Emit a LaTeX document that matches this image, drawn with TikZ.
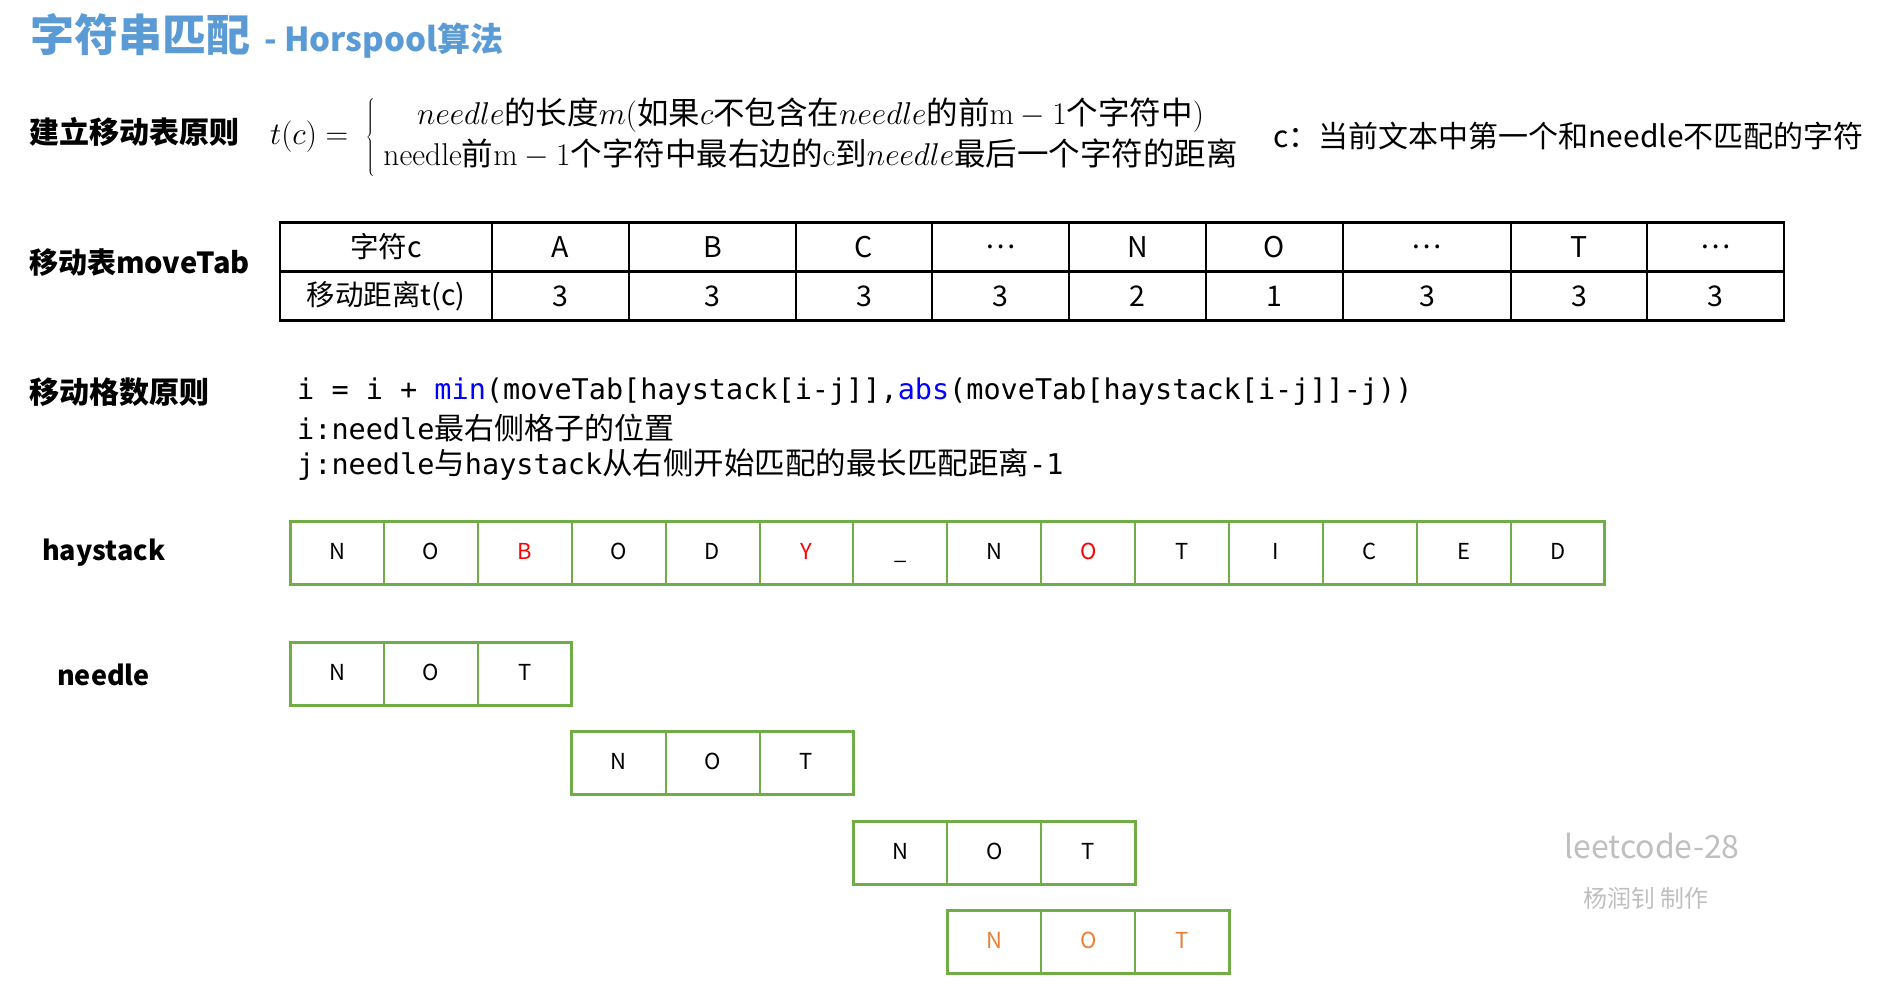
\documentclass[tikz,border=0pt]{standalone}
\usepackage{fix-cm}
\usepackage{xcolor}
\usepackage{fontspec}
\newfontfamily\cjk{Noto Sans CJK SC}
\newfontfamily\mono{DejaVu Sans Mono}
\usepackage{tikz}
\usetikzlibrary{positioning}

\definecolor{titleblue}{HTML}{5B9BD5}
\definecolor{cellgreen}{HTML}{70AD47}
\definecolor{misred}{HTML}{FF0000}
\definecolor{hitorange}{HTML}{ED7D31}
\definecolor{markgray}{HTML}{BFBFBF}
\definecolor{kwblue}{HTML}{0000FF}

\tikzset{
  rowlbl/.style={anchor=west, inner sep=0pt, font={\cjk\bfseries\fontsize{30}{36}\selectfont}},
  tcell/.style={draw, line width=2pt, outer sep=0pt, minimum height=49pt, inner sep=0pt, font={\cjk\fontsize{28.5}{32}\selectfont}},
  hcell/.style={draw=cellgreen, line width=2pt, outer sep=0pt, minimum width=93.9pt, minimum height=63pt, inner sep=0pt,
    text height=16pt, text depth=3pt, font={\cjk\fontsize{22}{26}\selectfont}},
  codeln/.style={anchor=west, inner sep=0pt, font={\mono\fontsize{28.5}{34}\selectfont}},
}

\begin{document}
\begin{tikzpicture}[x=1pt,y=-1pt]
	\useasboundingbox (0,0) rectangle (1886,996);

	% title
	\node[anchor=west, inner sep=0pt, text=titleblue, font={\cjk\bfseries}] (title) at (30,36)
		{{\fontsize{44}{50}\selectfont 字符串匹配}\hspace{14pt}{\fontsize{33}{40}\selectfont - Horspool算法}};

	% rule for the shift table
	\node[rowlbl] (rule1) at (29,132) {建立移动表原则};
	\node[anchor=west, inner sep=0pt, font=\fontsize{31.5}{41}\selectfont] (tc) at (270,137)
		{$t(c)=\;\left\{\;\begin{array}{@{}c@{}}
		needle\mbox{\cjk 的长度}m(\mbox{\cjk 如果}c\mbox{\cjk 不包含在}needle\mbox{\cjk 的前}\mathrm{m}-1\mbox{\cjk 个字符中})\\
		\mathrm{needle}\mbox{\cjk 前}\mathrm{m}-1\mbox{\cjk 个字符中最右边的}\mathrm{c}\mbox{\cjk 到}needle\mbox{\cjk 最后一个字符的距离}
		\end{array}\right.$};
	\node[anchor=west, inner sep=0pt, font={\cjk\fontsize{30}{36}\selectfont}] (cnote) at (1273,136)
		{c：当前文本中第一个和needle不匹配的字符};

	% shift table
	\node[rowlbl, font={\cjk\bfseries\fontsize{29}{36}\selectfont}] (rule2) at (29,263) {移动表moveTab};
	\foreach \xl/\xr/\ch/\sh [count=\k] in {280/492/字符c/移动距离t(c), 492/629/A/3, 629/796/B/3,
		796/932/C/3, 932/1069/…/3, 1069/1206/N/2, 1206/1343/O/1, 1343/1511/…/3, 1511/1647/T/3, 1647/1784/…/3}
	{
		\node[tcell, minimum width={(\xr-\xl)*1pt}] (c\k) at ({(\xl+\xr)/2},247) {\ch};
		\node[tcell, minimum width={(\xr-\xl)*1pt}] (t\k) at ({(\xl+\xr)/2},296) {\sh};
	}
	\draw[line width=2.5pt] (c1.north west) rectangle (t10.south east);
	\draw[line width=3.5pt] (c1.south west) -- (c10.south east);

	% rule for the shift
	\node[rowlbl] (rule3) at (29,392) {移动格数原则};
	\node[codeln] (code1) at (297,392)
		{i = i + \textcolor{kwblue}{min}(moveTab[haystack[i-j]],\textcolor{kwblue}{abs}(moveTab[haystack[i-j]]-j))};
	\node[codeln] (code2) at (297,428) {i:needle{\cjk\fontsize{30}{36}\selectfont 最右侧格子的位置}};
	\node[codeln] (code3) at (297,465)
		{j:needle{\cjk\fontsize{30.5}{36}\selectfont 与}haystack{\cjk\fontsize{30.5}{36}\selectfont 从右侧开始匹配的最长匹配距离}-1};

	% haystack
	\node[rowlbl, font={\cjk\bfseries\fontsize{27}{34}\selectfont}] (hlbl) at (42,553) {haystack};
	\foreach \ch/\col [count=\i] in {N/black, O/black, B/misred, O/black, D/black, Y/misred, \textunderscore/black,
		N/black, O/misred, T/black, I/black, C/black, E/black, D/black}
		\node[hcell, text=\col] (h\i) at ({290+93.9*(\i-0.5)},552.5) {\ch};
	\draw[cellgreen, line width=3pt] (h1.north west) rectangle (h14.south east);

	% needle, one row per shift
	\node[rowlbl, font={\cjk\bfseries\fontsize{27}{34}\selectfont}] (nlbl) at (57,675) {needle};
	\foreach \row/\off/\yy/\col in {1/0/673.5/black, 2/3/762.5/black, 3/6/852.5/black, 4/7/941.5/hitorange}
	{
		\foreach \ch [count=\j] in {N,O,T}
			\node[hcell, text=\col] (n\row\j) at ({290+93.9*(\off+\j-0.5)},\yy) {\ch};
		\draw[cellgreen, line width=3pt] (n\row1.north west) rectangle (n\row3.south east);
	}

	% mark
	\node[text=markgray, font={\cjk\fontsize{32}{38}\selectfont}] (mark1) at (1652,846) {leetcode-28};
	\node[text=markgray, font={\cjk\fontsize{24}{30}\selectfont}] (mark2) at (1646,898) {杨润钊 制作};
\end{tikzpicture}
\end{document}
